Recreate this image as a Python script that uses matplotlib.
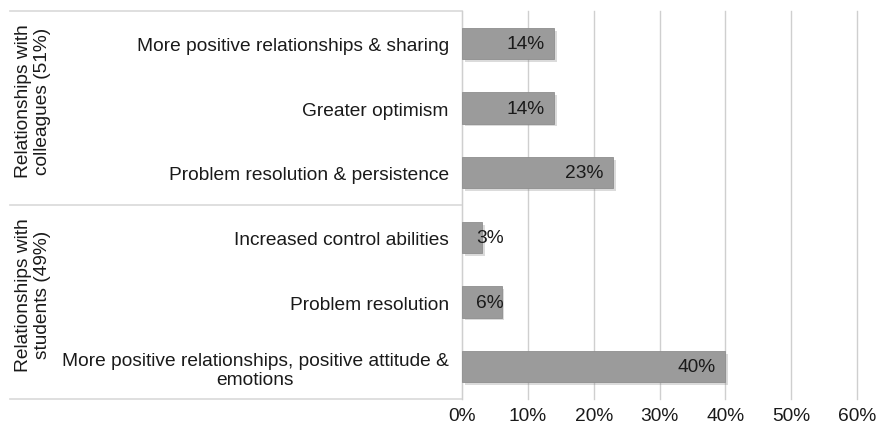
import matplotlib.pyplot as plt
import matplotlib.patheffects as pe

plt.rcParams['font.family'] = ['Liberation Sans', 'DejaVu Sans']

# rows top to bottom
categories = [
    "More positive relationships & sharing",
    "Greater optimism",
    "Problem resolution & persistence",
    "Increased control abilities",
    "Problem resolution",
    "More positive relationships, positive attitude &\nemotions",
]
values = [14, 14, 23, 3, 6, 40]
groups = ["Relationships with\ncolleagues (51%)", "Relationships with\nstudents (49%)"]
group_sizes = [3, 3]
xticks = [0, 10, 20, 30, 40, 50, 60]

FS = 13.8
W, H = 879, 431
fig = plt.figure(figsize=(W / 100, H / 100), dpi=100)
ax = fig.add_axes([462 / W, 1 - 400 / H, (857 - 462) / W, (400 - 12) / H])

ypos = list(range(len(values)))
bars = ax.barh(ypos, values, height=0.48, color='#9b9b9b', edgecolor='#8e8e8e', linewidth=0.6, zorder=3)
for b in bars:
    b.set_path_effects([pe.SimplePatchShadow(offset=(2, -2), alpha=0.3, shadow_rgbFace='#888888'), pe.Normal()])

for y, v in zip(ypos, values):
    if v < 10:
        ax.text(2.1, y, f"{v}%", ha='left', va='center', fontsize=FS, color='#1a1a1a', zorder=4)
    else:
        ax.text(v - 1.5, y, f"{v}%", ha='right', va='center', fontsize=FS, color='#1a1a1a', zorder=4)

ax.set_xlim(0, 60)
ax.set_ylim(len(values) - 0.5, -0.5)
ax.set_xticks(xticks)
ax.set_xticklabels([f"{t}%" for t in xticks], fontsize=FS, color='#1a1a1a')
ax.set_yticks(ypos)
ax.set_yticklabels(categories, fontsize=FS, color='#1a1a1a', multialignment='center')
ax.tick_params(axis='both', length=0)
ax.tick_params(axis='y', pad=9.5)
ax.tick_params(axis='x', pad=6)
ax.grid(axis='x', color='#cfcfcf', linewidth=1, zorder=0)
for line in ax.get_xgridlines():
    line.set_clip_on(False)
for s in ['top', 'right', 'bottom']:
    ax.spines[s].set_visible(False)
ax.spines['left'].set_color('#cfcfcf')

# group separators and labels
trans = ax.get_yaxis_transform()
x_left = (10 - 462) / (857 - 462)
edge = -0.5
ax.plot([x_left, 0], [edge, edge], transform=trans, color='#d9d9d9', lw=1.2, clip_on=False)
x_lab = (33 - 462) / (857 - 462)
for g, n in zip(groups, group_sizes):
    ax.text(x_lab, edge + n / 2 - 0.12, g, transform=trans, rotation=90, ha='center', va='center',
            fontsize=FS, color='#1a1a1a', multialignment='center')
    edge += n
    ax.plot([x_left, 0], [edge, edge], transform=trans, color='#d9d9d9', lw=1.2, clip_on=False)

fig.savefig('out.png', dpi=100)
